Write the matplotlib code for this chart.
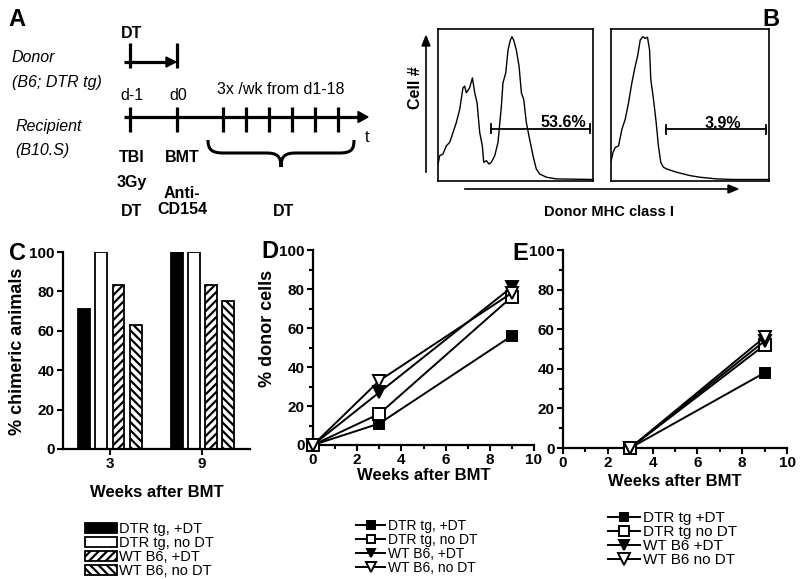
import numpy as np
import matplotlib
matplotlib.use("Agg")
import matplotlib.pyplot as plt
from matplotlib.path import Path
from matplotlib.patches import PathPatch, Polygon
from matplotlib.ticker import MultipleLocator

plt.rcParams['font.family'] = ['Liberation Sans', 'DejaVu Sans']

W, H = 800, 579

# ---------------- data ----------------
groups = ["DTR tg, +DT", "DTR tg, no DT", "WT B6, +DT", "WT B6, no DT"]
groups_e = ["DTR tg +DT", "DTR tg no DT", "WT B6 +DT", "WT B6 no DT"]
weeks_c = ["3", "9"]
chimeric = {
    "DTR tg, +DT": [71, 100],
    "DTR tg, no DT": [100, 100],
    "WT B6, +DT": [83, 83],
    "WT B6, no DT": [63, 75],
}
weeks_d = [0, 3, 9]
donor_d = {
    "DTR tg, +DT": [0, 11, 56],
    "DTR tg, no DT": [0, 16, 76],
    "WT B6, +DT": [0, 27, 81],
    "WT B6, no DT": [0, 33, 78],
}
weeks_e = [3, 9]
donor_e = {
    "DTR tg +DT": [0, 38],
    "DTR tg no DT": [0, 52],
    "WT B6 +DT": [0, 54],
    "WT B6 no DT": [0, 56],
}
# flow histograms (fraction of axis width, fraction of axis height)
hist1_x = [0.0, 0.011, 0.032, 0.054, 0.075, 0.097, 0.118, 0.140, 0.161, 0.172, 0.183, 0.204, 0.222,
           0.237, 0.252, 0.269, 0.286, 0.295, 0.312, 0.329, 0.344, 0.366, 0.387, 0.409, 0.419,
           0.437, 0.452, 0.467, 0.477, 0.488, 0.505, 0.523, 0.538, 0.553, 0.570, 0.591, 0.613,
           0.634, 0.656, 0.699, 0.763, 1.0]
hist1_y = [0.10, 0.158, 0.169, 0.224, 0.246, 0.312, 0.378, 0.466, 0.609, 0.620, 0.576, 0.609, 0.675,
           0.576, 0.510, 0.312, 0.224, 0.114, 0.125, 0.103, 0.114, 0.158, 0.246, 0.488, 0.642,
           0.708, 0.862, 0.927, 0.949, 0.927, 0.862, 0.752, 0.576, 0.532, 0.378, 0.268, 0.158,
           0.070, 0.037, 0.015, 0.004, 0.0]
hist2_x = [0.0, 0.013, 0.027, 0.048, 0.069, 0.090, 0.111, 0.132, 0.153, 0.168, 0.185, 0.202, 0.216,
           0.231, 0.244, 0.252, 0.269, 0.286, 0.300, 0.315, 0.332, 0.353, 0.384, 0.416, 0.458,
           0.500, 0.563, 0.668, 0.773, 1.0]
hist2_y = [0.12, 0.180, 0.213, 0.224, 0.334, 0.400, 0.510, 0.642, 0.752, 0.818, 0.927, 0.949, 0.938,
           0.945, 0.862, 0.664, 0.532, 0.378, 0.224, 0.114, 0.081, 0.070, 0.059, 0.048, 0.037,
           0.026, 0.015, 0.004, 0.0, 0.0]
gates = [("53.6%", 0.344, 0.983, 0.338), ("3.9%", 0.347, 0.983, 0.334)]


def rect(x0, y0, x1, y1):
    return [x0 / W, 1 - y1 / H, (x1 - x0) / W, (y1 - y0) / H]


fig = plt.figure(figsize=(8, 5.79), dpi=100)

# overlay for diagram / labels (pixel coordinates), drawn on top, transparent
ov = fig.add_axes([0, 0, 1, 1], zorder=10)
ov.set_xlim(0, W)
ov.set_ylim(H, 0)
ov.axis('off')
ov.patch.set_alpha(0)

LW = 2.3
FS_A = 11.5
# ----- Panel A -----
ov.text(17, 20, "A", fontsize=17, fontweight='bold', va='center', ha='center')
ov.text(132, 33, "DT", fontsize=FS_A, fontweight='bold', va='center', ha='center')
ov.text(12, 57, "Donor", fontsize=FS_A, style='italic', va='center', ha='left')
ov.text(12, 82, "(B6; DTR tg)", fontsize=FS_A, style='italic', va='center', ha='left')
ov.text(15, 126, "Recipient", fontsize=FS_A, style='italic', va='center', ha='left')
ov.text(15, 150, "(B10.S)", fontsize=FS_A, style='italic', va='center', ha='left')
# donor arrow
ov.plot([130, 130], [43, 68], color='k', lw=LW, solid_capstyle='butt')
ov.plot([177, 177], [43, 68], color='k', lw=LW, solid_capstyle='butt')
ov.plot([124, 168], [62, 62], color='k', lw=LW, solid_capstyle='butt')
ov.add_patch(Polygon([[166, 57], [176, 62], [166, 67]], closed=True, color='k'))
# recipient timeline
ov.plot([124, 360], [117, 117], color='k', lw=LW, solid_capstyle='butt')
ov.add_patch(Polygon([[358, 111.5], [368, 117], [358, 122.5]], closed=True, color='k'))
for tx in [130, 177, 223, 246, 269, 292, 315, 338]:
    ov.plot([tx, tx], [107, 132], color='k', lw=LW, solid_capstyle='butt')
ov.text(367, 137, "t", fontsize=FS_A, va='center', ha='center')
ov.text(132, 96, "d-1", fontsize=FS_A, va='center', ha='center')
ov.text(178, 96, "d0", fontsize=FS_A, va='center', ha='center')
ov.text(281, 89, "3x /wk from d1-18", fontsize=FS_A, va='center', ha='center')
ov.text(132, 158, "TBI", fontsize=FS_A, fontweight='bold', va='center', ha='center')
ov.text(132, 182, "3Gy", fontsize=FS_A, fontweight='bold', va='center', ha='center')
ov.text(132, 212, "DT", fontsize=FS_A, fontweight='bold', va='center', ha='center')
ov.text(182, 158, "BMT", fontsize=FS_A, fontweight='bold', va='center', ha='center')
ov.text(182, 193, "Anti-", fontsize=FS_A, fontweight='bold', va='center', ha='center')
ov.text(182, 210, "CD154", fontsize=FS_A, fontweight='bold', va='center', ha='center')
ov.text(283, 211, "DT", fontsize=FS_A, fontweight='bold', va='center', ha='center')
verts = [(208, 140), (208, 150), (212, 153), (224, 153), (266, 153),
         (277, 153), (281, 156), (281, 167), (281, 156), (285, 153), (296, 153),
         (339, 153), (351, 153), (354, 150), (354, 140)]
codes = [Path.MOVETO, Path.CURVE4, Path.CURVE4, Path.CURVE4, Path.LINETO,
         Path.CURVE4, Path.CURVE4, Path.CURVE4, Path.CURVE4, Path.CURVE4, Path.CURVE4,
         Path.LINETO, Path.CURVE4, Path.CURVE4, Path.CURVE4]
ov.add_patch(PathPatch(Path(verts, codes), fill=False, lw=2.2, color='k'))

# ----- Panel B -----
ov.text(771, 20, "B", fontsize=17, fontweight='bold', va='center', ha='center')
ov.plot([426, 426], [172, 45], color='k', lw=1.2)
ov.add_patch(Polygon([[422, 46], [426, 36], [430, 46]], closed=True, color='k'))
ov.plot([465, 730], [189, 189], color='k', lw=1.2)
ov.add_patch(Polygon([[728, 185], [738, 189], [728, 193]], closed=True, color='k'))
ov.text(416, 88, "Cell #", fontsize=11.5, fontweight='bold', rotation=90, va='center', ha='center')
ov.text(609, 212, "Donor MHC class I", fontsize=10.5, fontweight='bold', va='center', ha='center')

for (rx0, rx1), hx, hy, gate in zip([(438, 593), (611, 769)], [hist1_x, hist2_x],
                                    [hist1_y, hist2_y], gates):
    hax = fig.add_axes(rect(rx0, 29, rx1, 181), zorder=1)
    hax.plot(hx, hy, color='k', lw=1.0)
    hax.set_xlim(0, 1)
    hax.set_ylim(-0.01, 1.0)
    hax.set_xticks([])
    hax.set_yticks([])
    for s in hax.spines.values():
        s.set_linewidth(1.2)
    lab, gx0, gx1, gy = gate
    hax.plot([gx0, gx1], [gy, gy], color='k', lw=1.3)
    hax.plot([gx0, gx0], [gy - 0.03, gy + 0.03], color='k', lw=1.3)
    hax.plot([gx1, gx1], [gy - 0.03, gy + 0.03], color='k', lw=1.3)
    if lab == "53.6%":
        hax.text(0.955, gy - 0.01, lab, fontsize=11.5, fontweight='bold', ha='right', va='bottom')
    else:
        hax.text(0.71, gy - 0.01, lab, fontsize=11.5, fontweight='bold', ha='center', va='bottom')


def style_axes(ax):
    ax.spines['top'].set_visible(False)
    ax.spines['right'].set_visible(False)
    for s in ['left', 'bottom']:
        ax.spines[s].set_linewidth(1.6)
    ax.tick_params(which='major', length=4.5, width=1.5, labelsize=11, pad=1.5)
    ax.tick_params(which='minor', length=3, width=1.5)
    for lab in ax.get_xticklabels() + ax.get_yticklabels():
        lab.set_fontweight('bold')


# ----- Panel C -----
axc = fig.add_axes(rect(63, 252, 250, 449), zorder=1)
xg = np.arange(len(weeks_c))
bw = 0.13
step = 0.185
styles = [dict(color='k', edgecolor='k'),
          dict(color='white', edgecolor='k'),
          dict(color='white', edgecolor='k', hatch='////'),
          dict(color='white', edgecolor='k', hatch='\\\\\\\\')]
plt.rcParams['hatch.linewidth'] = 1.6
handles_c = []
for i, g in enumerate(groups):
    b = axc.bar(xg + (i - 1.5) * step, chimeric[g], width=bw, linewidth=1.3, label=g, **styles[i])
    handles_c.append(b)
axc.set_xlim(-0.51, 1.52)
axc.set_ylim(0, 100)
axc.set_yticks([0, 20, 40, 60, 80, 100])
axc.set_xticks(xg)
axc.set_xticklabels(weeks_c)
style_axes(axc)
axc.set_xlabel("Weeks after BMT", fontsize=12, fontweight='bold', labelpad=10)
ov.text(18, 351, "% chimeric animals", fontsize=13, fontweight='bold', rotation=90,
        va='center', ha='center')
ov.text(18, 254, "C", fontsize=17, fontweight='bold', va='center', ha='center')
fig.legend(handles=handles_c, labels=groups, loc='upper left',
           bbox_to_anchor=(85 / W, 1 - 522 / H), frameon=False, fontsize=10.5,
           handlelength=2.2, handleheight=0.7, labelspacing=0.0, handletextpad=0.1,
           borderpad=0, borderaxespad=0)

# ----- Panels D and E -----
markers = [dict(marker='s', mfc='k', ms=7), dict(marker='s', mfc='white', ms=8),
           dict(marker='v', mfc='k', ms=8), dict(marker='v', mfc='white', ms=9)]
zorders = [3, 4, 5, 6]


def line_panel(rct, xs, data, names, letter, lpos, leg_top, leg_x, leg_fs, mscale, lpad):
    ax = fig.add_axes(rect(*rct), zorder=1)
    hs = []
    for i, n in enumerate(names):
        h, = ax.plot(xs, data[n], color='k', lw=1.4, mec='k', mew=1.4,
                     zorder=zorders[i], clip_on=False, **markers[i])
        hs.append(h)
    ax.set_xlim(0, 10)
    ax.set_ylim(0, 100)
    ax.xaxis.set_major_locator(MultipleLocator(2))
    ax.xaxis.set_minor_locator(MultipleLocator(1))
    ax.yaxis.set_major_locator(MultipleLocator(20))
    ax.yaxis.set_minor_locator(MultipleLocator(10))
    style_axes(ax)
    ax.set_xlabel("Weeks after BMT", fontsize=12, fontweight='bold', labelpad=lpad)
    ov.text(lpos[0], lpos[1], letter, fontsize=17, fontweight='bold', va='center', ha='center')
    fig.legend(handles=hs, labels=names, loc='upper left',
               bbox_to_anchor=(leg_x / W, 1 - leg_top / H), frameon=False, fontsize=leg_fs,
               handlelength=2.1, labelspacing=0.0, handletextpad=0.2,
               borderpad=0, borderaxespad=0, markerscale=mscale)
    return ax


line_panel((313, 250, 534, 445), weeks_d, donor_d, groups, "D", (270, 252), 519, 356, 10,
           0.8, 0.5)
ov.text(268, 328, "% donor cells", fontsize=13, fontweight='bold', rotation=90,
        va='center', ha='center')
line_panel((563, 250, 787, 448), weeks_e, donor_e, groups_e, "E", (520, 254), 511, 608, 11,
           0.9, 2.5)

fig.savefig("out.png", dpi=100)
